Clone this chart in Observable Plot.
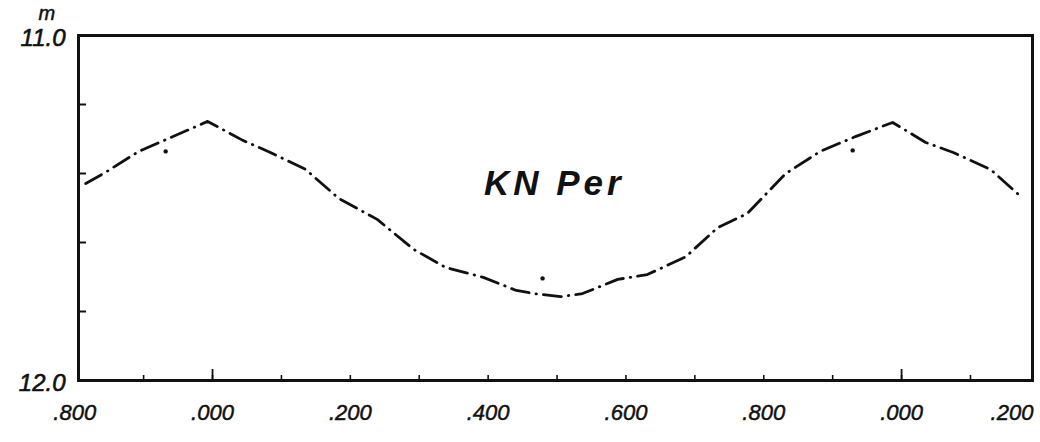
<!DOCTYPE html>
<html>
<head>
<meta charset="utf-8">
<script src="https://cdn.jsdelivr.net/npm/d3@7"></script>
<script src="https://cdn.jsdelivr.net/npm/@observablehq/plot@0.6"></script>
<style>
  html, body { margin: 0; padding: 0; background: #fff; }
  .title text { letter-spacing: 4px; }
</style>
</head>
<body>
<div id="chart"></div>
<script>
// Light curve of KN Per: phase vs. magnitude
const phase = [-0.184, -0.158, -0.107, -0.054, -0.007, 0.044, 0.084, 0.135, 0.183, 0.239, 0.292, 0.338, 0.393, 0.441, 0.466, 0.505, 0.537, 0.588, 0.631, 0.687, 0.733, 0.776, 0.832, 0.882, 0.933, 0.987, 1.035, 1.075, 1.129, 1.176];
const mag   = [11.429, 11.400, 11.336, 11.290, 11.249, 11.304, 11.339, 11.388, 11.472, 11.533, 11.620, 11.672, 11.701, 11.739, 11.748, 11.757, 11.748, 11.707, 11.693, 11.641, 11.557, 11.516, 11.400, 11.336, 11.293, 11.252, 11.310, 11.339, 11.388, 11.472];

// Isolated observations off the curve
const strayPhase = [-0.068, 0.479, 0.929];
const strayMag   = [11.336, 11.704, 11.333];

// Axis ticks and labels
const xMinorTicks = [-0.1, 0.0, 0.1, 0.2, 0.3, 0.4, 0.5, 0.6, 0.7, 0.8, 0.9, 1.0, 1.1];
const xMajorTicks = [0.0, 1.0];
const xLabelValues = [-0.2, 0.0, 0.2, 0.4, 0.6, 0.8, 1.0, 1.2];
const xLabels = [".800", ".000", ".200", ".400", ".600", ".800", ".000", ".200"];
const yTicks = [11.2, 11.4, 11.6, 11.8];
const yLabelValues = [11.0, 12.0];
const yLabels = ["11.0", "12.0"];
const magUnit = "m";
const titleText = "KN Per";
const titlePos = {phase: 0.496, mag: 11.43};

const curve = phase.map((p, i) => ({p, m: mag[i]}));
const stray = strayPhase.map((p, i) => ({p, m: strayMag[i]}));
const xLab = xLabelValues.map((v, i) => ({v, t: xLabels[i]}));
const xLabInner = xLab.slice(0, -1);
const xLabLast = xLab.slice(-1);
const yLab = yLabelValues.map((v, i) => ({v, t: yLabels[i]}));

const font = "Liberation Sans, Arial, sans-serif";
const labelStyle = {fontSize: 22, fontStyle: "italic", fill: "#111", stroke: "#111", strokeWidth: 0.5, clip: false};

const chart = Plot.plot({
  width: 1040,
  height: 442,
  marginLeft: 78,
  marginRight: 8,
  marginTop: 35,
  marginBottom: 62,
  style: {fontFamily: font, background: "#fff", color: "#111"},
  x: {domain: [-0.1945, 1.19], axis: null},
  y: {domain: [11, 12], reverse: true, axis: null},
  marks: [
    Plot.axisX({ticks: xMinorTicks, tickSize: -5, tickFormat: () => "", anchor: "bottom", strokeWidth: 1.6, stroke: "#111"}),
    Plot.axisX({ticks: xMajorTicks, tickSize: -11, tickFormat: () => "", anchor: "bottom", strokeWidth: 1.8, stroke: "#111"}),
    Plot.axisY({ticks: yTicks, tickSize: -8, tickFormat: () => "", anchor: "left", strokeWidth: 2, stroke: "#111"}),
    Plot.frame({stroke: "#111", strokeWidth: 3}),
    Plot.line(curve, {x: "p", y: "m", stroke: "#111", strokeWidth: 2.8, strokeDasharray: "18,7,0.5,7", strokeLinecap: "round", strokeLinejoin: "round"}),
    Plot.dot(stray, {x: "p", y: "m", r: 2.2, fill: "#111", stroke: null}),
    Plot.text(xLabInner, {x: "v", text: "t", frameAnchor: "bottom", dy: 32, lineAnchor: "middle", textAnchor: "middle", ...labelStyle}),
    Plot.text(xLabLast, {x: "v", text: "t", frameAnchor: "bottom", dy: 32, dx: -6, lineAnchor: "middle", textAnchor: "end", ...labelStyle}),
    Plot.text(yLab, {y: "v", text: "t", frameAnchor: "left", dx: -13, dy: 3, lineAnchor: "middle", textAnchor: "end",
      fontSize: 24, fontStyle: "italic", fill: "#111", stroke: "#111", strokeWidth: 0.6}),
    Plot.text([{v: yLabelValues[0], t: magUnit}], {y: "v", text: "t", frameAnchor: "left", dx: -40, dy: -22, lineAnchor: "middle", textAnchor: "start",
      fontSize: 20, fontStyle: "italic", fill: "#111", stroke: "#111", strokeWidth: 0.5}),
    Plot.text([titlePos], {x: "phase", y: "mag", text: () => titleText, fontSize: 35, fontWeight: "bold", fontStyle: "italic",
      lineAnchor: "middle", textAnchor: "middle", fill: "#111", className: "title"})
  ]
});

document.getElementById("chart").appendChild(chart);
</script>
</body>
</html>
